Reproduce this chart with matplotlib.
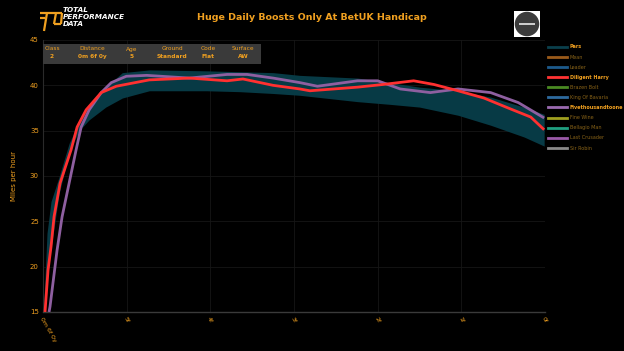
import matplotlib
matplotlib.use("Agg")
import matplotlib.pyplot as plt
from matplotlib.lines import Line2D
from matplotlib.patches import Rectangle, Ellipse

# ---------------- data ----------------
x_ticks = [0, 1, 2, 3, 4, 5, 6]
x_tick_labels = ["0m 6f 0y", "5f", "4f", "3f", "2f", "1f", "0f"]
y_ticks = [15, 20, 25, 30, 35, 40, 45]

pars_dist = [0.012, 0.048, 0.096, 0.192, 0.312, 0.432, 0.552, 0.75, 0.948, 1.27,
             1.96, 2.35, 2.75, 3.07, 3.76, 4.15, 4.5, 4.96, 5.35, 5.75, 5.99]
pars_upper = [16.3, 23.7, 27.2, 29.9, 33.6, 36.0, 37.8, 39.8, 41.4, 41.7,
              41.6, 41.5, 41.4, 41.1, 40.8, 40.3, 39.8, 39.4, 38.7, 37.6, 36.8]
pars_lower = [15.0, 19.4, 22.0, 28.0, 32.7, 35.0, 36.2, 37.6, 38.6, 39.4,
              39.4, 39.3, 39.1, 38.9, 38.2, 37.9, 37.6, 36.7, 35.6, 34.3, 33.3]

harry_dist = [0.024, 0.06, 0.096, 0.132, 0.204, 0.336, 0.408, 0.516, 0.696, 0.876,
              1.27, 1.75, 2.20, 2.39, 2.75, 3.07, 3.19, 3.76, 4.07, 4.43, 4.67,
              4.96, 5.27, 5.56, 5.83, 5.99]
harry_speed = [15.0, 19.6, 22.2, 25.5, 29.2, 32.9, 35.4, 37.3, 39.2, 39.9,
               40.6, 40.8, 40.5, 40.7, 40.0, 39.6, 39.4, 39.8, 40.1, 40.5, 40.1,
               39.4, 38.6, 37.5, 36.5, 35.1]

fivek_dist = [0.072, 0.084, 0.168, 0.228, 0.312, 0.396, 0.456, 0.552, 0.696, 0.816,
              0.996, 1.24, 1.75, 2.20, 2.44, 2.75, 3.07, 3.28, 3.76, 4.00, 4.27,
              4.63, 4.96, 5.35, 5.68, 5.99]
fivek_speed = [15.0, 15.6, 21.8, 25.5, 29.2, 32.9, 35.4, 37.3, 39.2, 40.3,
               41.0, 41.1, 40.8, 41.2, 41.2, 40.8, 40.3, 39.9, 40.5, 40.5, 39.6,
               39.2, 39.6, 39.2, 38.1, 36.4]

legend_names = ["Pars", "Mean", "Leader", "Diligent Harry", "Brazen Bolt",
                "King Of Bavaria", "Fivethousandtoone", "Fine Wine",
                "Bellagio Man", "Last Crusader", "Sir Robin"]
legend_colors = ["#0b3f4c", "#9a5a1a", "#1d5a8c", "#ff3333", "#4a8a22",
                 "#2e6a9e", "#9a6ab0", "#a0a020", "#20a080", "#9a5aa8", "#8a8a8a"]
legend_visible = [True, False, False, True, False, False, True, False, False, False, False]

info_keys = ["Class", "Distance", "Age", "Ground", "Code", "Surface"]
info_vals = ["2", "0m 6f 0y", "5", "Standard", "Flat", "AW"]

title = "Huge Daily Boosts Only At BetUK Handicap"

# ---------------- style ----------------
W, H = 624, 351
ORANGE = "#f0a020"
DIM = "#8a6418"
fig = plt.figure(figsize=(W / 100, H / 100), dpi=100, facecolor="black")

def fx(px):
    return px / W

def fy(py):
    return 1 - py / H

ax = fig.add_axes([fx(43), fy(312), fx(545) - fx(43), fy(40) - fy(312)])
ax.set_facecolor("black")
ax.set_xlim(0, 6)
ax.set_ylim(15, 45)

ax.fill_between(pars_dist, pars_lower, pars_upper, color="#073a45", lw=0, zorder=2)
ax.plot(fivek_dist, fivek_speed, color="#8e5fa0", lw=2.0, zorder=3, solid_capstyle="butt")
ax.plot(harry_dist, harry_speed, color="#ff3030", lw=2.0, zorder=4, solid_capstyle="butt")

ax.set_xticks(x_ticks)
ax.set_xticklabels(x_tick_labels, rotation=-60, ha="left", va="top",
                   rotation_mode="anchor", fontsize=4.5, color=ORANGE)
ax.set_yticks(y_ticks)
ax.set_yticklabels([str(v) for v in y_ticks], fontsize=5, color=ORANGE)
ax.tick_params(axis="both", length=0, pad=3)
ax.grid(True, color="#161616", lw=0.6)
ax.set_axisbelow(True)
for s in ["top", "right"]:
    ax.spines[s].set_visible(False)
ax.spines["left"].set_color("#2a2a2a")
ax.spines["bottom"].set_color("#3a3a3a")
ax.spines["bottom"].set_linewidth(1.0)
ax.set_ylabel("Miles per hour", color=ORANGE, fontsize=5, labelpad=9)

# title
fig.text(fx(312), fy(17), title, color=ORANGE, fontsize=6.8, fontweight="bold",
         ha="center", va="center")

# info box
fig.patches.append(Rectangle((fx(43), fy(64)), fx(261) - fx(43), fy(44) - fy(64),
                             transform=fig.transFigure, facecolor="#3a3a3a",
                             edgecolor="none", zorder=5))
info_x = [52, 92, 132, 172, 208, 243]
for k, v, x in zip(info_keys, info_vals, info_x):
    fig.text(fx(x), fy(49), k, color=ORANGE, fontsize=4.2, ha="center", va="center", zorder=6)
    fig.text(fx(x), fy(56.5), v, color=ORANGE, fontsize=4.2, fontweight="bold",
             ha="center", va="center", zorder=6)

# logo (top left)
for (x0, y0, x1, y1) in [(40, 13, 62, 13), (47, 13, 44, 31), (56, 13, 54, 24),
                         (54, 24, 61, 24), (62, 13, 61, 24), (40, 18, 45, 18)]:
    fig.add_artist(Line2D([fx(x0), fx(x1)], [fy(y0), fy(y1)], color=ORANGE, lw=1.6,
                          transform=fig.transFigure, solid_capstyle="butt"))
for i, word in enumerate(["TOTAL", "PERFORMANCE", "DATA"]):
    fig.text(fx(63), fy(9.5 + i * 7.2), word, color="white", fontsize=5.2,
             fontweight="bold", style="italic", ha="left", va="center")

# newcastle logo (top right)
fig.add_artist(Rectangle((fx(514), fy(37)), fx(540) - fx(514), fy(11) - fy(37),
                         transform=fig.transFigure, facecolor="white",
                         edgecolor="none", zorder=1))
fig.add_artist(Ellipse((fx(527), fy(24)), 24.5 / W, 24.5 / H, transform=fig.transFigure,
                       facecolor="#3c3c3c", edgecolor="none", zorder=2))
fig.add_artist(Rectangle((fx(519), fy(25)), 16 / W, 2 / H, transform=fig.transFigure,
                         facecolor="#cccccc", edgecolor="none", zorder=3))

# legend
handles = []
for name, col in zip(legend_names, legend_colors):
    handles.append(Line2D([], [], color=col, lw=2.0))
leg = fig.legend(handles, legend_names, loc="upper left",
                 bbox_to_anchor=(fx(547), fy(43.5)), frameon=False, fontsize=3.5,
                 handlelength=4.0, handletextpad=0.5, labelspacing=1.05,
                 borderaxespad=0, borderpad=0.2)
for txt, vis in zip(leg.get_texts(), legend_visible):
    if vis:
        txt.set_color(ORANGE)
        txt.set_fontweight("bold")
    else:
        txt.set_color(DIM)

fig.savefig("out.png", dpi=100, facecolor="black")
